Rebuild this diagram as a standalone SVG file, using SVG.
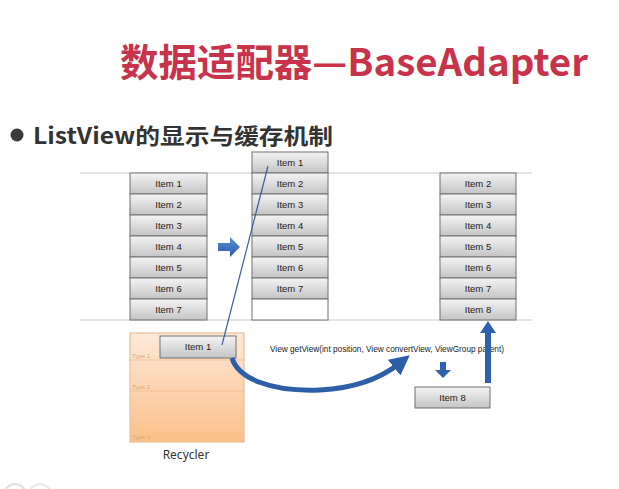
<svg xmlns="http://www.w3.org/2000/svg" width="619" height="489" viewBox="0 0 619 489">
<defs>
<linearGradient id="gItem" x1="0" y1="0" x2="0" y2="1">
<stop offset="0" stop-color="#f4f4f4"/>
<stop offset="1" stop-color="#c4c4c4"/>
</linearGradient>
<linearGradient id="gRec" x1="0" y1="0" x2="0" y2="1">
<stop offset="0" stop-color="#fde9d8"/>
<stop offset="1" stop-color="#fcbf89"/>
</linearGradient>
<linearGradient id="gBlue" x1="0" y1="0" x2="0" y2="1">
<stop offset="0" stop-color="#5a8fd6"/>
<stop offset="1" stop-color="#2a5aa8"/>
</linearGradient>
<marker id="ah" markerWidth="4" markerHeight="4" refX="1.5" refY="2" orient="auto" markerUnits="strokeWidth">
<path d="M0,0 L4,2 L0,4 Z" fill="#2e5ea8"/>
</marker>
</defs>
<style>
.item rect{fill:url(#gItem);stroke:#707070;stroke-width:1}
.item text{font-family:"Liberation Sans","Noto Sans",sans-serif;font-size:9.5px;fill:#222;text-anchor:middle}
.hl{stroke:#c8c8c8;stroke-width:1}
.type{font-family:"Liberation Sans",sans-serif;font-size:6px;fill:#d4a57e}
</style>
<rect width="619" height="489" fill="#ffffff"/>
<text x="120" y="76" font-family="'Noto Sans CJK SC','Noto Sans',sans-serif" font-weight="bold" font-size="38" fill="#c8334b" textLength="468" lengthAdjust="spacingAndGlyphs">数据适配器—BaseAdapter</text>
<circle cx="17" cy="135" r="6.5" fill="#3a3a3a"/>
<text x="33" y="144" font-family="'Noto Sans CJK SC','Noto Sans',sans-serif" font-weight="bold" font-size="22" fill="#333" textLength="300" lengthAdjust="spacingAndGlyphs">ListView的显示与缓存机制</text>
<line class="hl" x1="80" y1="173" x2="532" y2="173"/>
<line class="hl" x1="80" y1="320" x2="532" y2="320"/>
<g id="col1">
<g class="item"><rect x="130" y="173" width="77" height="21"/><text x="168.5" y="187">Item 1</text></g>
<g class="item"><rect x="130" y="194" width="77" height="21"/><text x="168.5" y="208">Item 2</text></g>
<g class="item"><rect x="130" y="215" width="77" height="21"/><text x="168.5" y="229">Item 3</text></g>
<g class="item"><rect x="130" y="236" width="77" height="21"/><text x="168.5" y="250">Item 4</text></g>
<g class="item"><rect x="130" y="257" width="77" height="21"/><text x="168.5" y="271">Item 5</text></g>
<g class="item"><rect x="130" y="278" width="77" height="21"/><text x="168.5" y="292">Item 6</text></g>
<g class="item"><rect x="130" y="299" width="77" height="21"/><text x="168.5" y="313">Item 7</text></g>
</g>
<g id="col2">
<g class="item"><rect x="252" y="152" width="76" height="21"/><text x="290" y="166">Item 1</text></g>
<g class="item"><rect x="252" y="173" width="76" height="21"/><text x="290" y="187">Item 2</text></g>
<g class="item"><rect x="252" y="194" width="76" height="21"/><text x="290" y="208">Item 3</text></g>
<g class="item"><rect x="252" y="215" width="76" height="21"/><text x="290" y="229">Item 4</text></g>
<g class="item"><rect x="252" y="236" width="76" height="21"/><text x="290" y="250">Item 5</text></g>
<g class="item"><rect x="252" y="257" width="76" height="21"/><text x="290" y="271">Item 6</text></g>
<g class="item"><rect x="252" y="278" width="76" height="21"/><text x="290" y="292">Item 7</text></g>
<rect x="252" y="299" width="76" height="21" fill="#fff" stroke="#707070"/>
</g>
<g id="col3">
<g class="item"><rect x="440" y="173" width="76" height="21"/><text x="478" y="187">Item 2</text></g>
<g class="item"><rect x="440" y="194" width="76" height="21"/><text x="478" y="208">Item 3</text></g>
<g class="item"><rect x="440" y="215" width="76" height="21"/><text x="478" y="229">Item 4</text></g>
<g class="item"><rect x="440" y="236" width="76" height="21"/><text x="478" y="250">Item 5</text></g>
<g class="item"><rect x="440" y="257" width="76" height="21"/><text x="478" y="271">Item 6</text></g>
<g class="item"><rect x="440" y="278" width="76" height="21"/><text x="478" y="292">Item 7</text></g>
<g class="item"><rect x="440" y="299" width="76" height="21"/><text x="478" y="313">Item 8</text></g>
</g>
<g id="recycler">
<rect x="130" y="333" width="114" height="109" fill="url(#gRec)" stroke="#e6bf9c" stroke-width="1.2"/>
<line x1="130" y1="360" x2="244" y2="360" stroke="#e8b48a" stroke-width="0.6"/>
<line x1="130" y1="391" x2="244" y2="391" stroke="#e8b48a" stroke-width="0.6"/>
<text class="type" x="132" y="358">Type 1</text>
<text class="type" x="132" y="389">Type 2</text>
<text class="type" x="132" y="439">Type n</text>
<g class="item"><rect x="160" y="336" width="76" height="22"/><text x="198" y="350">Item 1</text></g>
<text x="186" y="459" font-family="'Noto Sans','Liberation Sans',sans-serif" font-size="12" fill="#333" text-anchor="middle">Recycler</text>
</g>
<g id="item8">
<g class="item"><rect x="415" y="387" width="75" height="21"/><text x="452.5" y="401">Item 8</text></g>
</g>
<text x="270" y="352" font-family="'Liberation Sans','Noto Sans',sans-serif" font-size="8.2" fill="#222" textLength="234" lengthAdjust="spacingAndGlyphs">View getView(int position, View convertView, ViewGroup parent)</text>
<g id="connectors">
<path d="M218,243 L230,243 L230,237 L240,247 L230,257 L230,251 L218,251 Z" fill="url(#gBlue)"/>
<line x1="268" y1="166" x2="222" y2="345" stroke="#3d5f99" stroke-width="1.2"/>
<path d="M232,358 C238,378 270,392 320,390 C360,388 385,375 400,363" fill="none" stroke="#2e5ea8" stroke-width="5" marker-end="url(#ah)"/>
<path d="M440,362 L446,362 L446,370 L451,370 L443,378 L435,370 L440,370 Z" fill="#2e62b0"/>
<path d="M485,383 L485,333 L480,333 L488,321 L496,333 L491,333 L491,383 Z" fill="#2e62b0"/>
</g>
<circle cx="15" cy="495" r="11" fill="none" stroke="#e0e0e0" stroke-width="2"/>
<circle cx="40" cy="495" r="11" fill="none" stroke="#e8e8e8" stroke-width="2"/>
</svg>
